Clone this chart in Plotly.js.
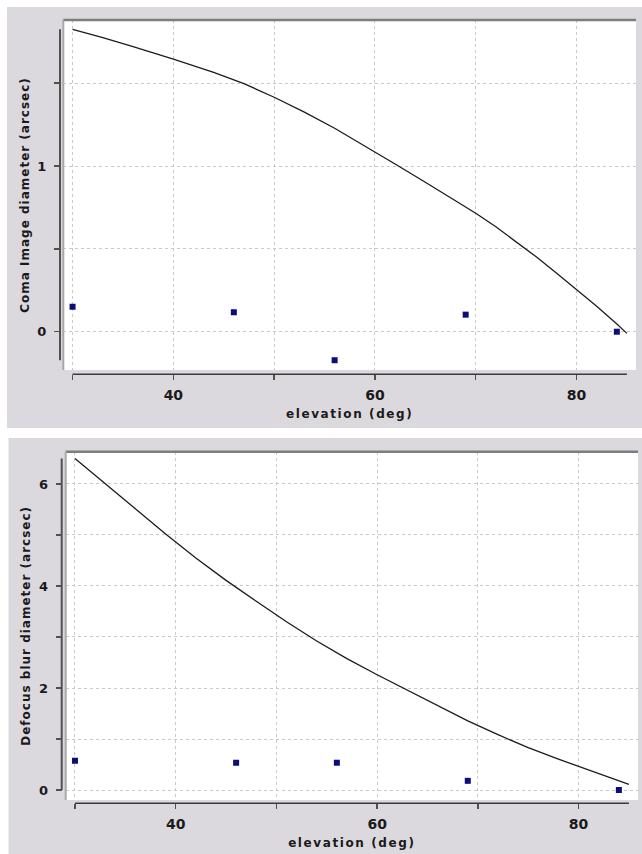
<!DOCTYPE html>
<html>
<head>
<meta charset="utf-8">
<script src="https://cdn.plot.ly/plotly-3.0.1.min.js"></script>
<style>
  html, body { margin: 0; padding: 0; background: #ffffff; }
  #chart { width: 642px; height: 854px; }
</style>
</head>
<body>
<div id="chart"></div>
<script>
// ---- data ----
const elevationMeasured = [30, 46, 56, 69, 84];
const comaMeasured = [0.15, 0.117, -0.172, 0.103, 0.0];
const defocusMeasured = [0.575, 0.535, 0.535, 0.18, 0.0];

const comaModelElev = [30, 33, 36, 40, 44, 47, 50, 53, 56, 59, 62, 65, 68, 70, 72, 74, 76, 78, 80, 82, 84, 85];
const comaModel = [1.825, 1.775, 1.72, 1.645, 1.565, 1.497, 1.415, 1.325, 1.228, 1.122, 1.012, 0.902, 0.792, 0.715, 0.633, 0.545, 0.452, 0.355, 0.255, 0.153, 0.047, -0.01];

const defocusModelElev = [30, 33, 36, 39, 42, 45, 48, 51, 54, 57, 60, 63, 66, 69, 72, 75, 78, 80, 82, 85];
const defocusModel = [6.50, 6.01, 5.51, 5.02, 4.55, 4.11, 3.70, 3.30, 2.92, 2.575, 2.26, 1.955, 1.65, 1.355, 1.085, 0.83, 0.605, 0.46, 0.32, 0.11];

const xTickVals = [30, 40, 50, 60, 70, 80];
const xTickText = ['', '40', '', '60', '', '80'];
const comaTickVals = [0, 0.5, 1, 1.5];
const comaTickText = ['0', '', '1', ''];
const defocusTickVals = [0, 1, 2, 3, 4, 5, 6];
const defocusTickText = ['0', '', '2', '', '4', '', '6'];

const xTitle = 'elevation (deg)';
const comaTitle = 'Coma Image diameter (arcsec)';
const defocusTitle = 'Defocus blur diameter (arcsec)';

// ---- layout helpers ----
const W = 642, H = 854;
const px = v => v / W;
const py = v => (H - v) / H;

const FONT = 'DejaVu Sans, Liberation Sans, Arial, sans-serif';
const markerColor = '#0c0c7a';
const lineColor = '#1c1c1c';
const axisColor = '#505050';
const gridColor = '#c9c9c9';
const panelColor = '#dcd9de';

const traces = [
  { x: comaModelElev, y: comaModel, xaxis: 'x', yaxis: 'y', mode: 'lines',
    line: { color: lineColor, width: 1.3 }, showlegend: false, hoverinfo: 'skip' },
  { x: elevationMeasured, y: comaMeasured, xaxis: 'x', yaxis: 'y', mode: 'markers',
    marker: { symbol: 'square', size: 6, color: markerColor }, showlegend: false },
  { x: defocusModelElev, y: defocusModel, xaxis: 'x2', yaxis: 'y2', mode: 'lines',
    line: { color: lineColor, width: 1.3 }, showlegend: false, hoverinfo: 'skip' },
  { x: elevationMeasured, y: defocusMeasured, xaxis: 'x2', yaxis: 'y2', mode: 'markers',
    marker: { symbol: 'square', size: 6, color: markerColor }, showlegend: false }
];

function xAxis(domain, position) {
  return {
    domain: domain, anchor: 'free', position: position,
    range: [29.08, 85.9], tickmode: 'array', tickvals: xTickVals, ticktext: xTickText,
    ticks: 'outside', ticklen: 5, tickwidth: 1.5, tickcolor: axisColor,
    ticklabelstandoff: 3,
    showline: false, zeroline: false,
    showgrid: true, gridcolor: gridColor, griddash: 'dot', gridwidth: 1,
    tickfont: { family: FONT, size: 14, weight: 'bold', color: '#1a1a1a' },
    title: { text: xTitle, standoff: 7, font: { family: FONT, size: 12, weight: 'bold', color: '#1a1a1a' } },
    automargin: false, fixedrange: true
  };
}
function yAxis(domain, position, range, vals, text, title) {
  return {
    domain: domain, anchor: 'free', position: position,
    range: range, tickmode: 'array', tickvals: vals, ticktext: text,
    ticks: 'outside', ticklen: 6, tickwidth: 1.5, tickcolor: axisColor,
    ticklabelstandoff: 5,
    showline: false, zeroline: false,
    showgrid: true, gridcolor: gridColor, griddash: 'dot', gridwidth: 1,
    tickfont: { family: FONT, size: 13, weight: 'bold', color: '#1a1a1a' },
    title: { text: title, standoff: 4, font: { family: FONT, size: 12, weight: 'bold', color: '#1a1a1a' } },
    automargin: false, fixedrange: true
  };
}

const topX0 = 63.3, topX1 = 636, topY0 = 20, topY1 = 370;
const botX0 = 65.7, botX1 = 638, botY0 = 451.7, botY1 = 800;

const shapes = [
  // grey panels
  { type: 'rect', xref: 'paper', yref: 'paper', x0: px(7), x1: px(642), y0: py(428), y1: py(7),
    fillcolor: panelColor, line: { width: 0 }, layer: 'below' },
  { type: 'rect', xref: 'paper', yref: 'paper', x0: px(8.5), x1: px(642), y0: py(854), y1: py(438),
    fillcolor: panelColor, line: { width: 0 }, layer: 'below' },
  // white plot areas
  { type: 'rect', xref: 'paper', yref: 'paper', x0: px(topX0), x1: px(topX1), y0: py(topY1), y1: py(topY0),
    fillcolor: '#ffffff', line: { width: 0 }, layer: 'below' },
  { type: 'rect', xref: 'paper', yref: 'paper', x0: px(botX0), x1: px(botX1), y0: py(botY1), y1: py(botY0),
    fillcolor: '#ffffff', line: { width: 0 }, layer: 'below' },
  // bevel frame (top + left edges of plot areas)
  { type: 'line', xref: 'paper', yref: 'paper', x0: px(topX0), x1: px(topX1), y0: py(topY0), y1: py(topY0),
    line: { color: '#7d7d7d', width: 2.5 } },
  { type: 'line', xref: 'paper', yref: 'paper', x0: px(topX0), x1: px(topX0), y0: py(topY0), y1: py(topY1),
    line: { color: '#a8a8a8', width: 2 } },
  { type: 'line', xref: 'paper', yref: 'paper', x0: px(botX0), x1: px(botX1), y0: py(botY0), y1: py(botY0),
    line: { color: '#7d7d7d', width: 2.5 } },
  { type: 'line', xref: 'paper', yref: 'paper', x0: px(botX0), x1: px(botX0), y0: py(botY0), y1: py(botY1),
    line: { color: '#a8a8a8', width: 2 } },
  // range-frame axis lines (span of the data)
  { type: 'line', xref: 'x', yref: 'paper', x0: 30, x1: 85, y0: py(374.3), y1: py(374.3),
    line: { color: '#3a3a3a', width: 1.6 } },
  { type: 'line', xref: 'paper', yref: 'y', x0: px(60), x1: px(60), y0: -0.172, y1: 1.825,
    line: { color: axisColor, width: 2 } },
  { type: 'line', xref: 'x2', yref: 'paper', x0: 30, x1: 85, y0: py(803.3), y1: py(803.3),
    line: { color: '#3a3a3a', width: 1.6 } },
  { type: 'line', xref: 'paper', yref: 'y2', x0: px(61.7), x1: px(61.7), y0: 0, y1: 6.5,
    line: { color: axisColor, width: 2 } }
];

const layout = {
  width: W, height: H,
  margin: { l: 0, r: 0, t: 0, b: 0, pad: 0 },
  paper_bgcolor: '#ffffff', plot_bgcolor: '#ffffff',
  showlegend: false,
  xaxis: xAxis([px(topX0), px(topX1)], py(374.3)),
  yaxis: yAxis([py(topY1), py(topY0)], px(60), [-0.231, 1.881], comaTickVals, comaTickText, comaTitle),
  xaxis2: xAxis([px(botX0), px(botX1)], py(803.3)),
  yaxis2: yAxis([py(botY1), py(botY0)], px(61.7), [-0.196, 6.633], defocusTickVals, defocusTickText, defocusTitle),
  shapes: shapes
};

Plotly.newPlot('chart', traces, layout, { displayModeBar: false, staticPlot: true }).then(() => {
  document.querySelectorAll('.xtitle, .x2title').forEach(el => { el.style.letterSpacing = '1.6px'; });
  document.querySelectorAll('.ytitle, .y2title').forEach(el => { el.style.letterSpacing = '1px'; });
});
</script>
</body>
</html>
